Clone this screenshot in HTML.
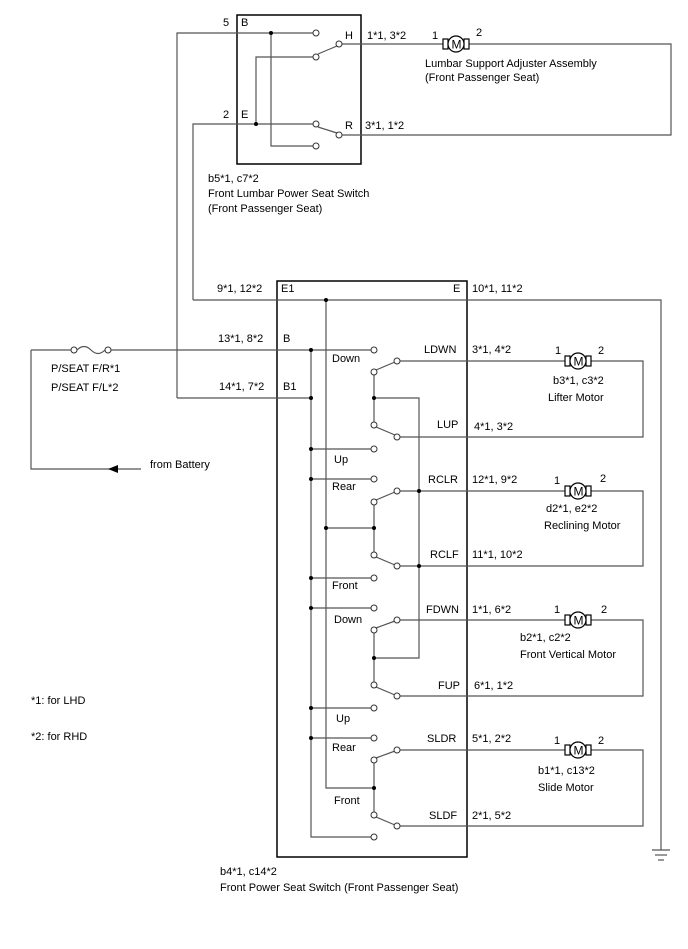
<!DOCTYPE html>
<html><head><meta charset="utf-8"><style>
html,body{margin:0;padding:0;background:#fff;}
svg{display:block;}
text{font-family:"Liberation Sans",sans-serif;font-size:11px;fill:#000;}
.w{stroke:#555;stroke-width:1.2;fill:none;}
.b{stroke:#000;stroke-width:1.5;fill:none;}
.c{stroke:#333;stroke-width:1;fill:#fff;}
</style></head><body>
<svg width="688" height="949" viewBox="0 0 688 949" xmlns="http://www.w3.org/2000/svg">
<defs>
<g id="mot">
<rect x="-13" y="-5" width="5" height="10" fill="#fff" stroke="#000" stroke-width="1.2"/>
<rect x="8" y="-5" width="5" height="10" fill="#fff" stroke="#000" stroke-width="1.2"/>
<circle r="8" fill="#fff" stroke="#000" stroke-width="1.2"/>
<text x="-4.5" y="4.5" style="font-size:12px">M</text>
</g>
</defs>
<!-- top switch -->
<rect class="b" x="237" y="15" width="124" height="149"/>
<polyline class="w" points="177,398 177,33 316,33"/>
<polyline class="w" points="193,300 193,124 316,124"/>
<polyline class="w" points="271,33 271,146 316,146"/>
<polyline class="w" points="256,124 256,57 316,57"/>
<polyline class="w" points="339,44 671,44 671,135 339,135"/>
<line class="w" x1="318" y1="54" x2="337" y2="46"/>
<line class="w" x1="318" y1="127" x2="337" y2="133"/>
<circle class="c" cx="316" cy="33" r="3"/><circle class="c" cx="316" cy="57" r="3"/>
<circle class="c" cx="316" cy="124" r="3"/><circle class="c" cx="316" cy="146" r="3"/>
<circle class="c" cx="339" cy="44" r="3"/><circle class="c" cx="339" cy="135" r="3"/>
<circle cx="271" cy="33" r="2"/><circle cx="256" cy="124" r="2"/>
<use href="#mot" x="456" y="44"/>
<text x="223" y="26">5</text><text x="241" y="26">B</text>
<text x="223" y="118">2</text><text x="241" y="118">E</text>
<text x="345" y="39">H</text><text x="345" y="129">R</text>
<text x="367" y="39">1*1, 3*2</text><text x="365" y="129">3*1, 1*2</text>
<text x="432" y="39">1</text><text x="476" y="36">2</text>
<text x="425" y="67">Lumbar Support Adjuster Assembly</text>
<text x="425" y="81">(Front Passenger Seat)</text>
<text x="208" y="182">b5*1, c7*2</text>
<text x="208" y="197">Front Lumbar Power Seat Switch</text>
<text x="208" y="212">(Front Passenger Seat)</text>
<!-- main -->
<rect class="b" x="277" y="281" width="190" height="576"/>
<polyline class="w" points="193,300 661,300 661,850"/>
<line class="w" x1="652" y1="850" x2="670" y2="850"/>
<line class="w" x1="655" y1="855" x2="667" y2="855"/>
<line class="w" x1="658" y1="860" x2="664" y2="860"/>
<polyline class="w" points="31,350 74,350"/><path class="w" d="M77,350 q7,-7 14,0 q7,7 14,0"/><line class="w" x1="111" y1="350" x2="374" y2="350"/>
<circle class="c" cx="74" cy="350" r="3"/><circle class="c" cx="108" cy="350" r="3"/>
<polyline class="w" points="31,350 31,469 141,469"/>
<polygon points="108,469 118,465 118,473" fill="#000"/>
<line class="w" x1="177" y1="398" x2="311" y2="398"/>
<!-- buses -->
<polyline class="w" points="311,350 311,837 374,837"/>
<polyline class="w" points="326,300 326,788 374,788"/>
<circle cx="326" cy="300" r="2"/>
<g class="w">
<line x1="311" y1="449" x2="374" y2="449"/><line x1="311" y1="479" x2="374" y2="479"/>
<line x1="311" y1="578" x2="374" y2="578"/><line x1="311" y1="608" x2="374" y2="608"/>
<line x1="311" y1="708" x2="374" y2="708"/><line x1="311" y1="738" x2="374" y2="738"/>
<line x1="326" y1="528" x2="374" y2="528"/>
<line x1="374" y1="372" x2="374" y2="425"/><line x1="374" y1="502" x2="374" y2="555"/>
<line x1="374" y1="630" x2="374" y2="685"/><line x1="374" y1="760" x2="374" y2="815"/>
<polyline points="374,398 419,398 419,566"/>
<polyline points="419,566 419,658 374,658"/>
<polyline points="397,361 643,361 643,437 397,437"/>
<polyline points="397,491 643,491 643,566 397,566"/>
<polyline points="397,620 643,620 643,696 397,696"/>
<polyline points="397,750 643,750 643,826 397,826"/>
<line x1="376" y1="370" x2="395" y2="362"/><line x1="376" y1="427" x2="395" y2="435"/>
<line x1="376" y1="500" x2="395" y2="492"/><line x1="376" y1="557" x2="395" y2="565"/>
<line x1="376" y1="628" x2="395" y2="621"/><line x1="376" y1="687" x2="395" y2="695"/>
<line x1="376" y1="758" x2="395" y2="751"/><line x1="376" y1="817" x2="395" y2="825"/>
</g>
<g>
<circle cx="311" cy="350" r="2"/><circle cx="311" cy="398" r="2"/><circle cx="311" cy="449" r="2"/><circle cx="311" cy="479" r="2"/>
<circle cx="311" cy="578" r="2"/><circle cx="311" cy="608" r="2"/><circle cx="311" cy="708" r="2"/><circle cx="311" cy="738" r="2"/>
<circle cx="326" cy="528" r="2"/><circle cx="374" cy="528" r="2"/><circle cx="374" cy="398" r="2"/><circle cx="419" cy="491" r="2"/>
<circle cx="419" cy="566" r="2"/><circle cx="374" cy="658" r="2"/><circle cx="374" cy="788" r="2"/>
</g>
<g class="c">
<circle cx="374" cy="350" r="3"/><circle cx="374" cy="372" r="3"/><circle cx="397" cy="361" r="3"/>
<circle cx="374" cy="425" r="3"/><circle cx="397" cy="437" r="3"/><circle cx="374" cy="449" r="3"/>
<circle cx="374" cy="479" r="3"/><circle cx="374" cy="502" r="3"/><circle cx="397" cy="491" r="3"/>
<circle cx="374" cy="555" r="3"/><circle cx="397" cy="566" r="3"/><circle cx="374" cy="578" r="3"/>
<circle cx="374" cy="608" r="3"/><circle cx="374" cy="630" r="3"/><circle cx="397" cy="620" r="3"/>
<circle cx="374" cy="685" r="3"/><circle cx="397" cy="696" r="3"/><circle cx="374" cy="708" r="3"/>
<circle cx="374" cy="738" r="3"/><circle cx="374" cy="760" r="3"/><circle cx="397" cy="750" r="3"/>
<circle cx="374" cy="815" r="3"/><circle cx="397" cy="826" r="3"/><circle cx="374" cy="837" r="3"/>
</g>
<use href="#mot" x="578" y="361"/><use href="#mot" x="578" y="491"/>
<use href="#mot" x="578" y="620"/><use href="#mot" x="578" y="750"/>
<!-- labels -->
<text x="217" y="292">9*1, 12*2</text><text x="281" y="292">E1</text>
<text x="453" y="292">E</text><text x="472" y="292">10*1, 11*2</text>
<text x="218" y="342">13*1, 8*2</text><text x="283" y="342">B</text>
<text x="219" y="390">14*1, 7*2</text><text x="283" y="390">B1</text>
<text x="51" y="372">P/SEAT F/R*1</text><text x="51" y="391">P/SEAT F/L*2</text>
<text x="150" y="468">from Battery</text>
<text x="332" y="362">Down</text><text x="334" y="463">Up</text><text x="332" y="490">Rear</text>
<text x="332" y="589">Front</text><text x="334" y="623">Down</text><text x="336" y="722">Up</text>
<text x="332" y="751">Rear</text><text x="334" y="804">Front</text>
<text x="424" y="353">LDWN</text><text x="437" y="428">LUP</text><text x="428" y="483">RCLR</text>
<text x="430" y="558">RCLF</text><text x="426" y="613">FDWN</text><text x="438" y="689">FUP</text>
<text x="427" y="742">SLDR</text><text x="429" y="819">SLDF</text>
<text x="472" y="353">3*1, 4*2</text><text x="474" y="430">4*1, 3*2</text><text x="472" y="483">12*1, 9*2</text>
<text x="472" y="558">11*1, 10*2</text><text x="472" y="613">1*1, 6*2</text><text x="474" y="689">6*1, 1*2</text>
<text x="472" y="742">5*1, 2*2</text><text x="472" y="819">2*1, 5*2</text>
<text x="555" y="354">1</text><text x="598" y="354">2</text>
<text x="553" y="384">b3*1, c3*2</text><text x="548" y="401">Lifter Motor</text>
<text x="554" y="484">1</text><text x="600" y="482">2</text>
<text x="546" y="512">d2*1, e2*2</text><text x="544" y="529">Reclining Motor</text>
<text x="554" y="613">1</text><text x="601" y="613">2</text>
<text x="520" y="641">b2*1, c2*2</text><text x="520" y="658">Front Vertical Motor</text>
<text x="554" y="744">1</text><text x="598" y="744">2</text>
<text x="538" y="774">b1*1, c13*2</text><text x="538" y="791">Slide Motor</text>
<text x="31" y="704">*1: for LHD</text><text x="31" y="740">*2: for RHD</text>
<text x="220" y="875">b4*1, c14*2</text>
<text x="220" y="891">Front Power Seat Switch (Front Passenger Seat)</text>
</svg>
</body></html>
